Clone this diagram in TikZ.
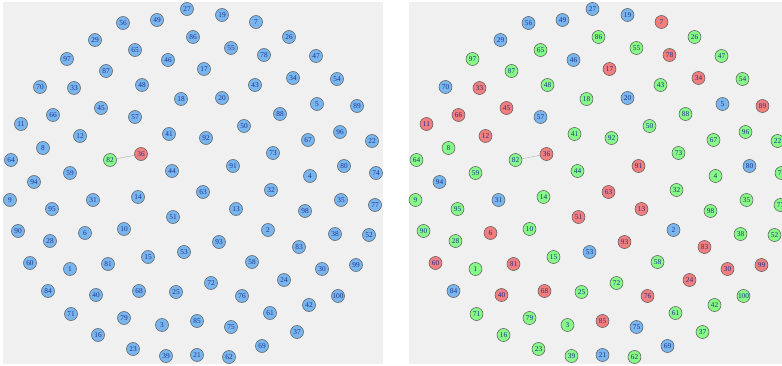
\documentclass[tikz,border=0pt]{standalone}
\usepackage{fontspec}
\setmainfont{Liberation Serif}
\usepackage{tikz}
\usetikzlibrary{positioning, backgrounds}

\definecolor{nb}{HTML}{7AB6EE}
\definecolor{ng}{HTML}{86F986}
\definecolor{nr}{HTML}{F27E7E}
\definecolor{numtext}{HTML}{1F2F8F}
\definecolor{panelgray}{HTML}{F0F0F0}

% number / x / y / colour before / colour after
\def\vertexlist{
  1/70/269/b/g, 2/268/230/b/b, 3/162/325/b/g, 4/310/176/b/g, 5/317/104/b/b,
  6/85/233/b/r, 7/256/22/b/r, 8/43/148/b/g, 9/10/200/b/g, 10/124/229/b/g,
  11/21/124/b/r, 12/80/136/b/r, 13/236/209/b/r, 14/138/197/b/g, 15/148/257/b/g,
  16/98/335/b/g, 17/204/69/b/r, 18/181/99/b/g, 19/222/15/b/b, 20/222/98/b/b,
  21/197/355/b/b, 22/372/141/b/g, 23/133/349/b/g, 24/284/280/b/r, 25/176/292/b/g,
  26/289/37/b/g, 27/187/9/b/b, 28/50/241/b/g, 29/95/40/b/b, 30/322/269/b/r,
  31/93/200/b/b, 32/271/190/b/g, 33/74/88/b/r, 34/293/78/b/r, 35/341/200/b/g,
  36/141/154/r/r, 37/297/332/b/g, 38/335/234/b/g, 39/166/356/b/g, 40/96/295/b/r,
  41/169/134/b/g, 42/309/305/b/g, 43/255/85/b/g, 44/172/171/b/g, 45/101/108/b/r,
  46/168/60/b/b, 47/316/56/b/g, 48/142/85/b/g, 49/157/20/b/b, 50/244/126/b/g,
  51/173/217/b/r, 52/369/235/b/g, 53/184/252/b/b, 54/337/79/b/g, 55/231/48/b/g,
  56/123/23/b/b, 57/135/117/b/b, 58/252/262/b/g, 59/70/173/b/g, 60/30/263/b/r,
  61/270/313/b/g, 62/229/357/b/g, 63/203/192/b/r, 64/11/160/b/g, 65/135/50/b/g,
  66/53/115/b/r, 67/308/140/b/g, 68/139/291/b/r, 69/262/346/b/b, 70/40/87/b/b,
  71/71/314/b/g, 72/211/283/b/g, 73/273/153/b/g, 74/376/173/b/g, 75/231/327/b/b,
  76/242/296/b/r, 77/375/205/b/g, 78/264/55/b/r, 79/124/318/b/g, 80/344/166/b/b,
  81/108/264/b/r, 82/110/160/g/g, 83/299/247/b/r, 84/48/291/b/b, 85/197/321/b/r,
  86/193/37/b/g, 87/106/71/b/g, 88/280/114/b/g, 89/357/106/b/r, 90/18/231/b/g,
  91/233/166/b/r, 92/206/138/b/g, 93/219/242/b/r, 94/34/182/b/b, 95/52/209/b/g,
  96/340/132/b/g, 97/67/59/b/g, 98/305/211/b/g, 99/356/265/b/r, 100/338/296/b/g}

\begin{document}
\begin{tikzpicture}[
            x=0.75pt, y=-0.75pt,
            panel/.style={fill=panelgray},
            vertex/.style={circle, draw=black!65, line width=0.4pt, inner sep=0pt,
                           minimum size=9.75pt, text=numtext,
                           font=\fontsize{5.5}{6}\selectfont},
            link/.style={line width=0.45pt, black!25}
        ]
            \clip (0,0) rectangle (782,365);

            \begin{scope}[on background layer]
                \fill[white] (0,0) rectangle (782,365);
                \fill[panel] (3,2) rectangle (383,364);
                \fill[panel] (408.5,2) rectangle (788.5,364);
            \end{scope}

            \foreach \n/\x/\y/\ca/\cb in \vertexlist {
                \node[vertex, fill=n\ca] (l\n) at (\x,\y) {\n};
                \node[vertex, fill=n\cb] (r\n) at (\x+405.5,\y) {\n};
            }

            \begin{scope}[on background layer]
                \draw[link] (l82) -- (l36);
                \draw[link] (r82) -- (r36);
            \end{scope}
        \end{tikzpicture}
\end{document}
